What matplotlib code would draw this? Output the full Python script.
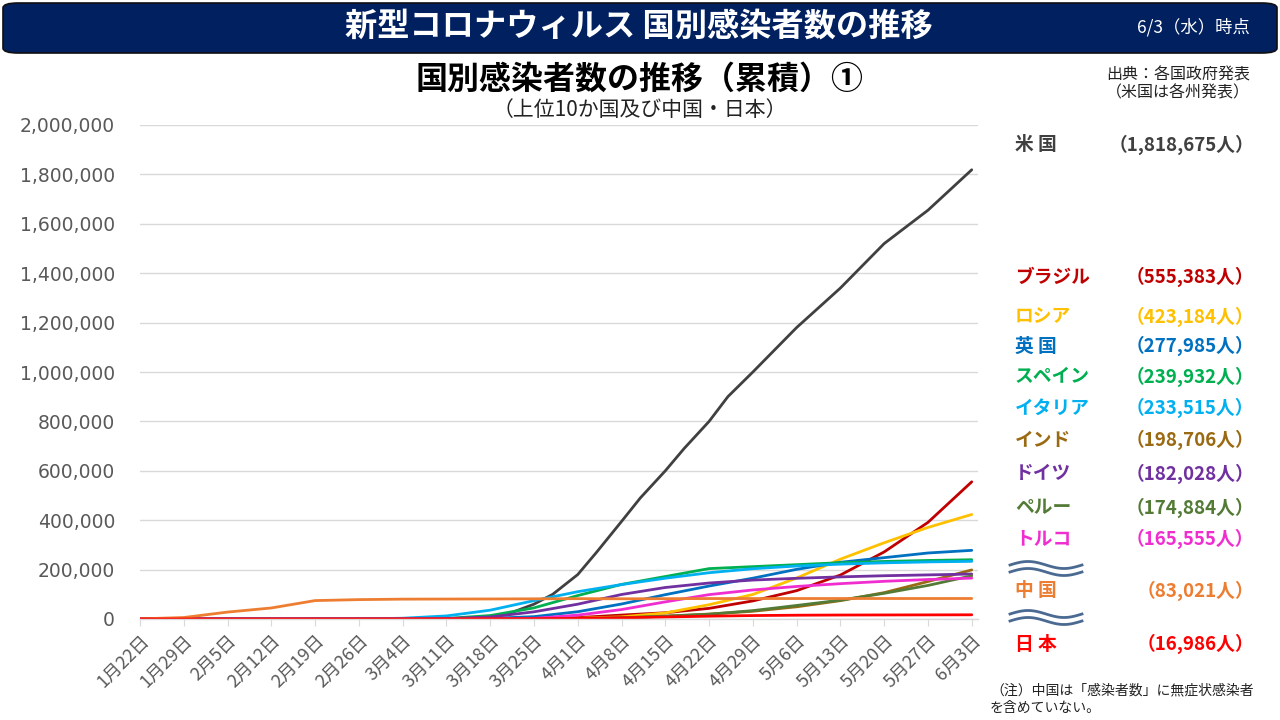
import numpy as np
import pandas as pd
import matplotlib
matplotlib.use("Agg")
import matplotlib.pyplot as plt
from matplotlib.patches import FancyBboxPatch
from matplotlib.lines import Line2D
from matplotlib.ticker import FuncFormatter

plt.rcParams['font.family'] = ['Noto Sans CJK JP', 'DejaVu Sans']

# ---------------- data ----------------
dates = ['2020-01-22', '2020-01-29', '2020-02-05', '2020-02-12', '2020-02-19', '2020-02-26',
         '2020-03-04', '2020-03-11', '2020-03-18', '2020-03-25', '2020-04-01', '2020-04-08',
         '2020-04-15', '2020-04-22', '2020-04-29', '2020-05-06', '2020-05-13', '2020-05-20',
         '2020-05-27', '2020-06-03']
tick_labels = ['1月22日', '1月29日', '2月5日', '2月12日', '2月19日', '2月26日', '3月4日',
               '3月11日', '3月18日', '3月25日', '4月1日', '4月8日', '4月15日', '4月22日',
               '4月29日', '5月6日', '5月13日', '5月20日', '5月27日', '6月3日']

# US is read more densely through its steep phase
us_dates = ['2020-01-22', '2020-01-29', '2020-02-05', '2020-02-12', '2020-02-19', '2020-02-26',
            '2020-03-04', '2020-03-11', '2020-03-14', '2020-03-18', '2020-03-21', '2020-03-25',
            '2020-03-28', '2020-04-01', '2020-04-04', '2020-04-08', '2020-04-11', '2020-04-15',
            '2020-04-18', '2020-04-22', '2020-04-25', '2020-04-29', '2020-05-06', '2020-05-13',
            '2020-05-20', '2020-05-27', '2020-06-03']
us      = [1, 5, 12, 13, 15, 60, 150, 1300, 2500, 9000, 22000, 60000, 100000, 180000, 270000,
           395000, 490000, 600000, 690000, 800000, 900000, 1000000, 1180000, 1340000,
           1520000, 1655000, 1818675]
brazil  = [0, 0, 0, 0, 0, 1, 2, 34, 290, 2200, 5700, 15900, 25300, 43100, 73200, 114700,
           178000, 271600, 391200, 555383]
russia  = [0, 0, 0, 2, 2, 2, 3, 20, 150, 660, 2800, 8700, 24500, 57900, 99400, 165900,
           242300, 308700, 370700, 423184]
uk      = [0, 0, 2, 9, 9, 15, 85, 460, 2626, 9529, 29474, 60733, 98476, 133495, 165221,
           201101, 229705, 248293, 267240, 277985]
spain   = [0, 0, 1, 2, 2, 15, 222, 2277, 13910, 45000, 95000, 140000, 172000, 204000, 212000,
           220000, 228000, 233000, 237000, 239932]
italy   = [0, 0, 2, 3, 3, 453, 3089, 12462, 35713, 74386, 110574, 139422, 165155, 187327,
           203591, 214457, 222104, 227364, 231139, 233515]
india   = [0, 0, 3, 3, 3, 3, 28, 62, 151, 657, 1834, 5194, 11439, 19984, 31332, 49391,
           74281, 106750, 151767, 198706]
germany = [0, 4, 12, 16, 16, 27, 262, 1567, 8198, 29000, 60000, 99225, 127584, 145694,
           157641, 164807, 170508, 175210, 178570, 182028]
peru    = [0, 0, 0, 0, 0, 0, 0, 11, 234, 480, 1323, 4342, 11475, 19250, 33931, 54817,
           76306, 104020, 135905, 174884]
turkey  = [0, 0, 0, 0, 0, 0, 0, 1, 191, 2433, 15679, 38226, 69392, 98674, 117589, 131744,
           143114, 152587, 159797, 165555]
china   = [548, 5974, 28018, 44653, 74576, 78497, 80409, 80793, 81102, 81661, 82361, 81802,
           82295, 82788, 82858, 82883, 82926, 82965, 82995, 83021]
japan   = [0, 7, 25, 28, 84, 180, 290, 600, 900, 1200, 2384, 4768, 8100, 11512, 13929,
           15354, 16079, 16385, 16651, 16986]

names  = ['米 国', 'ブラジル', 'ロシア', '英 国', 'スペイン', 'イタリア', 'インド', 'ドイツ',
          'ペルー', 'トルコ', '中 国', '日 本']
totals = ['（1,818,675人）', '（555,383人）', '（423,184人）', '（277,985人）', '（239,932人）',
          '（233,515人）', '（198,706人）', '（182,028人）', '（174,884人）', '（165,555人）',
          '（83,021人）', '（16,986人）']
series = [us, brazil, russia, uk, spain, italy, india, germany, peru, turkey, china, japan]
colors = ['#404040', '#C00000', '#FFC000', '#0070C0', '#00B050', '#00B0F0', '#9A6A12',
          '#7030A0', '#537B35', '#F02ED0', '#ED7D31', '#FF0000']
label_y = [145, 277, 317, 346, 377, 408, 440, 474, 508, 539, 591, 644]  # pixel rows

# ---------------- figure ----------------
W, H = 1280, 720
fig = plt.figure(figsize=(12.8, 7.2), dpi=100)
fig.patch.set_facecolor('white')

def fx(px):
    return px / W

def fy(py):
    return 1 - py / H

# header bar
hdr = FancyBboxPatch((fx(3), fy(53)), fx(1274), 50 / H,
                     boxstyle="round,pad=0,rounding_size=0.012",
                     transform=fig.transFigure, facecolor='#002060',
                     edgecolor='#101010', linewidth=1.2, mutation_aspect=H / W)
fig.add_artist(hdr)
fig.text(fx(639), fy(26), '新型コロナウィルス 国別感染者数の推移', color='white',
         fontsize=23.2, fontweight='bold', ha='center', va='center')
fig.text(fx(1193), fy(27), '6/3（水）時点', color='white', fontsize=12.5,
         ha='center', va='center')

# titles
fig.text(fx(640), fy(80), '国別感染者数の推移（累積）①', color='black', fontsize=23,
         fontweight='bold', ha='center', va='center')
fig.text(fx(640), fy(110), '（上位10か国及び中国・日本）', color='#222222', fontsize=15,
         ha='center', va='center')
fig.text(fx(1178), fy(75), '出典：各国政府発表', color='#222222', fontsize=11.5,
         ha='center', va='center')
fig.text(fx(1178), fy(93), '（米国は各州発表）', color='#222222', fontsize=11.5,
         ha='center', va='center')

# axes
ax = fig.add_axes([fx(140), fy(619), fx(978 - 140), (619 - 125) / H])
x = pd.to_datetime(dates)
xu = pd.to_datetime(us_dates)
for s, c in zip(series, colors):
    xs = xu if s is us else x
    ax.plot(xs, s, color=c, linewidth=2.0, solid_capstyle='round', solid_joinstyle='round')

ax.set_ylim(0, 2000000)
ax.set_xlim(x[0], x[-1] + pd.Timedelta(days=1))
ax.set_yticks(np.arange(0, 2000001, 200000))
ax.yaxis.set_major_formatter(FuncFormatter(lambda v, p: f'{int(v):,}'))
ax.grid(axis='y', color='#D9D9D9', linewidth=1.0)
ax.set_axisbelow(True)
for side in ['top', 'right', 'left']:
    ax.spines[side].set_visible(False)
ax.spines['bottom'].set_color('#D9D9D9')
ax.spines['bottom'].set_linewidth(1.0)
ax.tick_params(axis='y', length=0, pad=18, labelsize=13.5, labelcolor='#595959')
for lab in ax.get_yticklabels():
    lab.set_fontfamily(['DejaVu Sans'])
ax.set_xticks(x)
ax.set_xticklabels(tick_labels, rotation=45, ha='right', rotation_mode='anchor',
                   fontsize=13, color='#595959')
ax.tick_params(axis='x', length=5, color='#D9D9D9', pad=4)

# right-side labels
for n, t, c, py in zip(names, totals, colors, label_y):
    fig.text(fx(1015), fy(py), n, color=c, fontsize=13.5, fontweight='bold',
             ha='left', va='center')
    fig.text(fx(1254), fy(py), t, color=c, fontsize=13.5, fontweight='bold',
             ha='right', va='center')

# wavy separators
wx = np.linspace(1010, 1082, 60)
for base in (565, 614):
    for off in (0, 7):
        wy = base + off - 3.5 * np.sin((wx - 1010) / 72 * 2 * np.pi)
        fig.add_artist(Line2D(fx(wx), fy(wy), transform=fig.transFigure,
                              color='#4A6A92', linewidth=2.0))

# note
fig.text(fx(990), fy(690), '（注）中国は「感染者数」に無症状感染者', color='#222222',
         fontsize=10, ha='left', va='center')
fig.text(fx(990), fy(708), 'を含めていない。', color='#222222', fontsize=10,
         ha='left', va='center')

fig.savefig('out.png', dpi=100, facecolor='white')
